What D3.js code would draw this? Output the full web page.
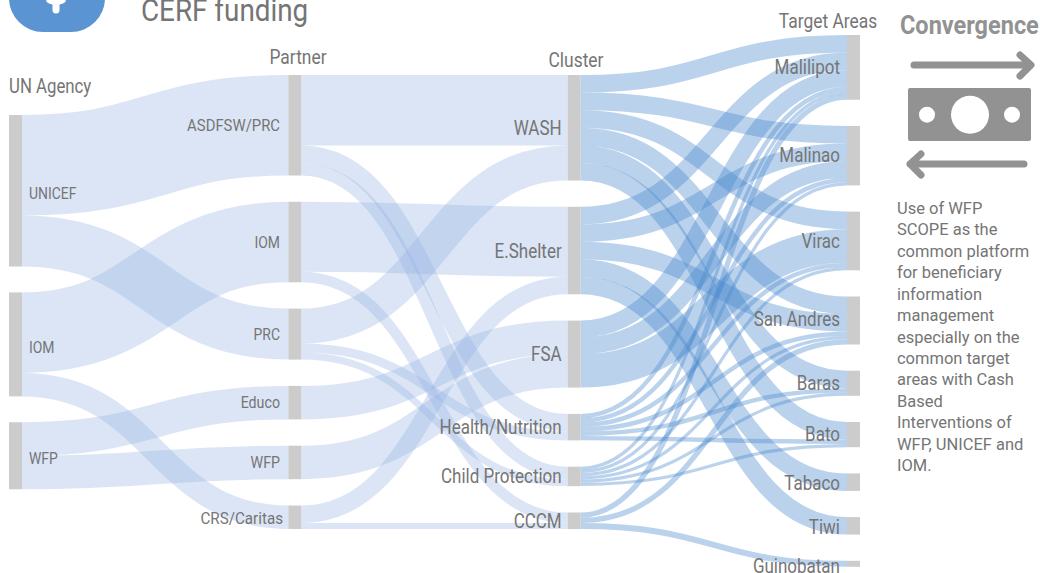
<!DOCTYPE html>
<html><head><meta charset="utf-8">
<style>html,body{margin:0;padding:0;background:#fff;overflow:hidden}svg{display:block}text{font-family:Roboto,sans-serif;fill:#757575}</style>
<script src="https://cdnjs.cloudflare.com/ajax/libs/d3/7.8.5/d3.min.js"></script>
</head><body><svg id="c" width="1040" height="573"></svg>
<script>
const agencies=["UNICEF","IOM","WFP"];
const partners=["ASDFSW/PRC","IOM ","PRC","Educo","WFP ","CRS/Caritas"];
const clusters=["WASH","E.Shelter","FSA","Health/Nutrition","Child Protection","CCCM"];
const targets=["Malilipot","Malinao","Virac","San Andres","Baras","Bato","Tabaco","Tiwi","Guinobatan"];
const columnTitles=["UN Agency","Partner","Cluster","Target Areas"];
const agencyFlows=[["UNICEF","ASDFSW/PRC",100.5],["UNICEF","PRC",51],["IOM","IOM ",80.5],["IOM","CRS/Caritas",23.5],["WFP","Educo",33.5],["WFP","WFP ",33.5]];
const partnerFlows=[["ASDFSW/PRC","WASH",70.5],["ASDFSW/PRC","Health/Nutrition",17.5],["ASDFSW/PRC","Child Protection",12.5],["IOM ","E.Shelter",70],["IOM ","CCCM",10.5],["PRC","WASH",35],["PRC","Health/Nutrition",9],["PRC","Child Protection",7],["Educo","FSA",33.5],["WFP ","FSA",33.5],["CRS/Caritas","E.Shelter",17.5],["CRS/Caritas","CCCM",6]];
const clusterFlows=[
["WASH","Malilipot",17.6],["WASH","Malinao",17.6],["WASH","Virac",17.6],["WASH","San Andres",17.6],["WASH","Baras",17.5],["WASH","Bato",17.6],
["E.Shelter","Malilipot",17.5],["E.Shelter","Malinao",17.5],["E.Shelter","San Andres",17.5],["E.Shelter","Tabaco",17.5],["E.Shelter","Tiwi",17.5],
["FSA","Malilipot",16.75],["FSA","Malinao",16.75],["FSA","Virac",33.5],
["Health/Nutrition","Malilipot",4.4],["Health/Nutrition","Malinao",4.4],["Health/Nutrition","Virac",4.4],["Health/Nutrition","San Andres",4.4],["Health/Nutrition","Baras",4.4],["Health/Nutrition","Bato",4.4],
["Child Protection","Malilipot",3.2],["Child Protection","Malinao",3.2],["Child Protection","Virac",3.2],["Child Protection","San Andres",3.2],["Child Protection","Baras",3.2],["Child Protection","Bato",3.2],
["CCCM","Malilipot",5.3],["CCCM","San Andres",5.3],["CCCM","Guinobatan",6]];
const bodyLines=["Use of WFP","SCOPE as the","common platform","for beneficiary","information","management","especially on the","common target","areas with Cash","Based","Interventions of","WFP, UNICEF and","IOM."];

const svg=d3.select("#c");
const columns=[agencies,partners,clusters,targets];
const colX=d3.scalePoint().domain([0,1,2,3]).range([9,847]);
const nodeW=13, pads=[25.9,26.3,26.3,26.2];
const colTop=[115,75,75,35];
const h=d3.scaleLinear().domain([0,1]).range([0,1]);
const allLinks=[...agencyFlows,...partnerFlows,...clusterFlows].map(([s,t,v])=>({s,t,v}));
const nodes=new Map();
columns.forEach((names,ci)=>{let y=colTop[ci];names.forEach((name,i)=>{
  const out=allLinks.filter(l=>l.s===name),inn=allLinks.filter(l=>l.t===name);
  const val=Math.max(d3.sum(out,l=>l.v),d3.sum(inn,l=>l.v));
  nodes.set(name,{name,ci,i,x:colX(ci),y0:y,y1:y+h(val)});y+=h(val)+pads[ci];});});
nodes.forEach(n=>{
  let y=n.y0;allLinks.filter(l=>l.s===n.name).forEach(l=>{l.w=h(l.v);l.sy=y+l.w/2;y+=l.w;});
});
nodes.forEach(n=>{
  let y=n.y0;allLinks.filter(l=>l.t===n.name).sort((a,b)=>nodes.get(a.s).i-nodes.get(b.s).i).forEach(l=>{l.ty=y+l.w/2;y+=l.w;});
});
const link=d3.linkHorizontal().source(d=>[nodes.get(d.s).x+nodeW,d.sy]).target(d=>[nodes.get(d.t).x,d.ty]);
svg.append("g").attr("fill","none").selectAll("path").data(allLinks).join("path")
 .attr("d",link).attr("stroke",d=>nodes.get(d.s).ci===2?"#4a89cd":"#95b3e1").attr("stroke-width",d=>d.w)
 .attr("stroke-opacity",d=>nodes.get(d.s).ci===2?0.38:0.34);
svg.append("g").attr("fill","#cccccc").selectAll("rect").data([...nodes.values()]).join("rect")
 .attr("x",d=>d.x).attr("y",d=>d.y0).attr("width",nodeW).attr("height",d=>d.y1-d.y0);
function label(x,y,s,size,anchor,sx=0.87,weight=400,fill="#757575"){
 svg.append("text").attr("transform",`translate(${x},${y}) scale(${sx},1)`).attr("text-anchor",anchor)
  .attr("font-size",size).attr("font-weight",weight).style("fill",fill).text(s);
}
const labelScale={"ASDFSW/PRC":0.93,"CRS/Caritas":0.95,"Educo":0.89,"WFP ":0.89};
const labelNudge={"Guinobatan":2.5,"San Andres":-1.5,"Malinao":-1,"Tabaco":1,"Tiwi":1,"Bato":-1};
nodes.forEach(n=>{
 const big=n.ci>=2,size=big?20:16;const cy=(n.y0+n.y1)/2+size*0.35+(n.ci===0?3:0)+(labelNudge[n.name]||0);
 if(n.ci===0)label(n.x+nodeW+7,cy,n.name,size,"start");
 else if(n.ci===1)label(n.name==="CRS/Caritas"?283:280,cy+(n.name==="CRS/Caritas"?1:0),n.name.trim(),size,"end",labelScale[n.name]||0.87);
 else label(n.x-(n.ci===2?6:7),cy,n.name,size,"end",0.85);
});
label(9,93,columnTitles[0],20,"start",0.84);
label(298,64,columnTitles[1],20,"middle");
label(576,67,columnTitles[2],20,"middle");
label(828,28,columnTitles[3],20,"middle");
label(141,21,"CERF funding",32,"start");
// icon
svg.append("rect").attr("x",9).attr("y",-68).attr("width",96).attr("height",100).attr("rx",34).attr("fill","#5b94d3");
svg.append("path").attr("d","M56 0V10").attr("stroke","#fff").attr("stroke-width",7).attr("stroke-linecap","round");
svg.append("ellipse").attr("cx",56).attr("cy",0).attr("rx",10).attr("ry",5).attr("fill","#fff");
// convergence
label(900,34,"Convergence",25,"start",0.94,700,"#929292");
const g="#929292";
const icon=svg.append("g").attr("fill","none").attr("stroke",g).attr("stroke-width",7).attr("stroke-linecap","round").attr("stroke-linejoin","round");
icon.append("path").attr("d","M914 65H1030M1020 55L1031 65L1020 76");
icon.append("path").attr("d","M1024 164H910M921 154L910 164L921 175");
svg.append("rect").attr("x",908).attr("y",88).attr("width",123).attr("height",53).attr("rx",2).attr("fill",g);
[[927,8],[970,19],[1012,8]].forEach(([cx,r])=>svg.append("circle").attr("cx",cx).attr("cy",114.7).attr("r",r).attr("fill","#fff"));
bodyLines.forEach((s,i)=>label(897,214+i*21.43,s,16,"start",1.03));
</script></body></html>
